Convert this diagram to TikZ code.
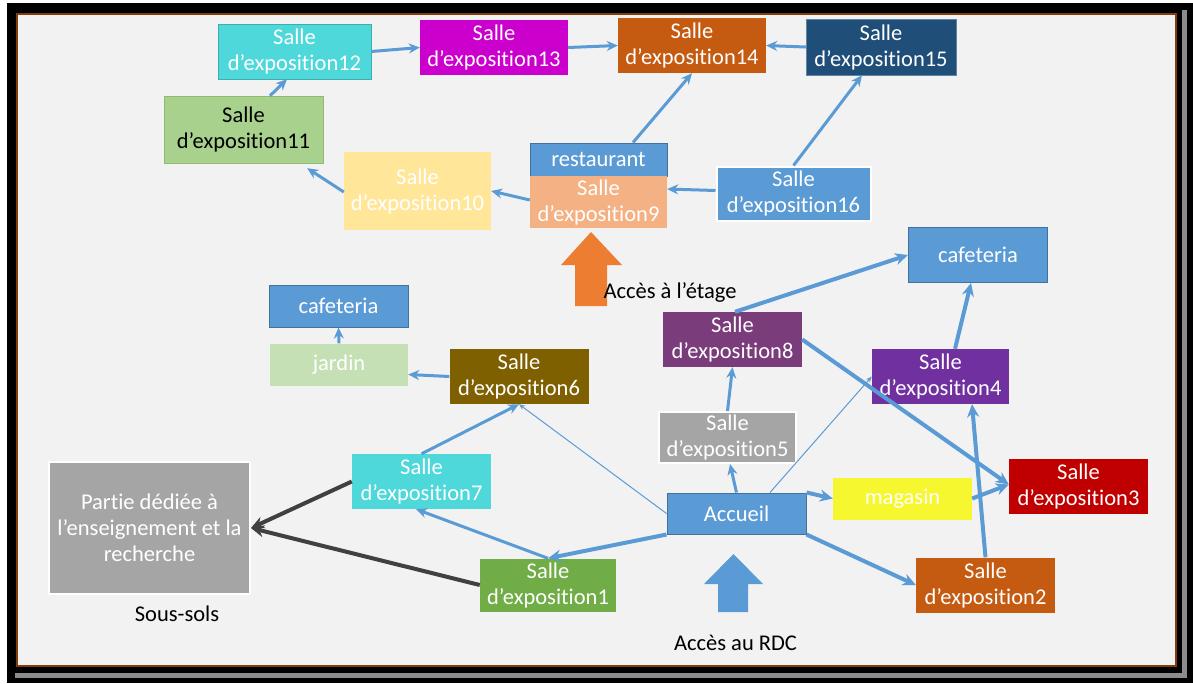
\documentclass[tikz,border=0pt]{standalone}
\usepackage{fontspec}
\setmainfont{Carlito}[Ligatures={NoCommon,NoContextual}]
\usepackage{tikz}
\usetikzlibrary{arrows.meta}
\definecolor{paper}{HTML}{F2F2F2}
\definecolor{framebrown}{HTML}{843C0C}
\definecolor{shadegray}{HTML}{8C8C8C}
\definecolor{officeblue}{HTML}{5B9BD5}
\definecolor{edgeblue}{HTML}{41719C}
\definecolor{roomaqua}{HTML}{4ED8DA}
\definecolor{roommagenta}{HTML}{CC00CC}
\definecolor{roomrust}{HTML}{C55A11}
\definecolor{roomnavy}{HTML}{1F4E79}
\definecolor{roomsage}{HTML}{A9D18E}
\definecolor{roomsand}{HTML}{FFE699}
\definecolor{roomsalmon}{HTML}{F4B183}
\definecolor{roomplum}{HTML}{7A3C7A}
\definecolor{roomviolet}{HTML}{7030A0}
\definecolor{roomstone}{HTML}{A5A5A5}
\definecolor{roomolive}{HTML}{7F6000}
\definecolor{roommint}{HTML}{C5E0B4}
\definecolor{roomlemon}{HTML}{F7F72F}
\definecolor{roomred}{HTML}{C00000}
\definecolor{roomgrass}{HTML}{70AD47}
\definecolor{pumpkin}{HTML}{ED7D31}
\definecolor{charcoal}{HTML}{404040}
\tikzset{
  room/.style      = {minimum width=139pt, minimum height=55pt, inner sep=0pt,
                      align=center, text=white, font=\fontsize{22.5}{26}\selectfont},
  boxsize/.style 2 args = {minimum width=#1pt, minimum height=#2pt},
  whiteedge/.style = {draw=white, line width=2pt},
  blueedge/.style  = {draw=edgeblue, line width=1pt},
  lbl/.style       = {inner sep=0pt, font=\fontsize{22.5}{26}\selectfont},
  link/.style      = {-{Stealth[length=11pt,width=10pt]}, officeblue, line width=3pt},
  boldlink/.style  = {-{Stealth[length=13pt,width=12pt]}, officeblue, line width=4pt},
  thinlink/.style  = {-{Stealth[length=6pt,width=5pt]}, officeblue, line width=1pt},
  darklink/.style  = {-{Stealth[length=13pt,width=12pt]}, charcoal, line width=4pt}
}
\begin{document}
\begin{tikzpicture}[x=1pt,y=-1pt]
  \useasboundingbox (0,0) rectangle (1193,683);
  % frame
  \fill[white] (0,0) rectangle (1193,683);
  \fill[black] (7,3) rectangle (1193,683);
  \draw[shadegray,line width=5pt] (1184.5,10) -- (1184.5,675.5) -- (15,675.5);
  \draw[framebrown,line width=2pt,fill=paper] (17,14) rectangle (1176,666);

  % etage
  \node[room, boxsize={153}{55}, fill=roomaqua, draw=roomaqua!80!black] (s12) at (294.5,51.5) {Salle\\d’exposition12};
  \node[room, boxsize={148}{55}, fill=roommagenta] (s13) at (494,47.5) {Salle\\d’exposition13};
  \node[room, boxsize={148}{55}, fill=roomrust] (s14) at (692,45.5) {Salle\\d’exposition14};
  \node[room, boxsize={150}{56}, fill=roomnavy, draw=roomnavy!70!white] (s15) at (881,47) {Salle\\d’exposition15};
  \node[room, boxsize={159}{67}, fill=roomsage, draw=roomgrass!80!white, text=black] (s11) at (243.5,129.5) {Salle\\d’exposition11};
  \node[room, boxsize={147}{78}, fill=roomsand] (s10) at (417.5,191) {Salle\\d’exposition10};
  \node[room, boxsize={137}{33}, fill=officeblue, blueedge] (resto) at (598.5,159.5) {restaurant};
  \node[room, boxsize={137}{52}, fill=roomsalmon] (s9) at (598.5,202) {Salle\\d’exposition9};
  \node[room, boxsize={154}{54}, fill=officeblue, whiteedge] (s16) at (793.5,193.5) {Salle\\d’exposition16};
  \fill[pumpkin] (591,232) -- (622,265) -- (607,265) -- (607,306) -- (575,306) -- (575,265) -- (561,265) -- cycle;
  \node[lbl] (etage) at (670,292) {Accès à l’étage};

  % rez-de-chaussee
  \node[room, boxsize={139}{55}, fill=officeblue, blueedge] (cafR) at (978,255) {cafeteria};
  \node[room, boxsize={139}{42}, fill=officeblue, blueedge] (cafL) at (338.5,306) {cafeteria};
  \node[room, boxsize={138}{42}, fill=roommint] (jardin) at (339,364.5) {jardin};
  \node[room, fill=roomolive] (s6) at (519,376.5) {Salle\\d’exposition6};
  \node[room, fill=roomplum] (s8) at (732.5,339.5) {Salle\\d’exposition8};
  \node[room, boxsize={137}{55}, fill=roomviolet] (s4) at (940.5,376.5) {Salle\\d’exposition4};
  \node[room, boxsize={137}{51}, fill=roomstone, whiteedge] (s5) at (727.5,437.5) {Salle\\d’exposition5};
  \node[room, fill=roomaqua] (s7) at (421.5,481.5) {Salle\\d’exposition7};
  \node[room, boxsize={139}{41}, fill=officeblue, blueedge] (accueil) at (736.5,513.5) {Accueil};
  \node[room, boxsize={139}{42}, fill=roomlemon] (magasin) at (902.5,498.5) {magasin};
  \node[room, fill=roomred] (s3) at (1078.5,486.5) {Salle\\d’exposition3};
  \node[room, fill=roomrust] (s2) at (985.5,585) {Salle\\d’exposition2};
  \node[room, boxsize={136}{53}, fill=roomgrass] (s1) at (548,585) {Salle\\d’exposition1};
  \fill[officeblue] (733.5,554) -- (763,584) -- (748,584) -- (748,612) -- (718,612) -- (718,584) -- (704,584) -- cycle;
  \node[lbl] (rdc) at (735.5,643) {Accès au RDC};

  % sous-sols
  \node[room, boxsize={201}{132}, fill=roomstone, whiteedge] (partie) at (149.5,528) {Partie dédiée à\\l’enseignement et la\\recherche};
  \node[lbl] (soussols) at (177,614) {Sous-sols};

  % liaisons
  \draw[link] ([xshift=26.5pt]s11.north) -- ([xshift=-7.5pt]s12.south);
  \draw[link] (s12.east) -- (s13.west);
  \draw[link] (s13.east) -- (s14.west);
  \draw[link] (s15.west) -- (s14.east);
  \draw[link] ([xshift=34.5pt]resto.north) -- (s14.south);
  \draw[link] (s16.north) -- ([xshift=-19pt]s15.south);
  \draw[link] ([yshift=3pt]s16.west) -- ([yshift=13pt]s9.east);
  \draw[link] ([yshift=2pt]s9.west) -- (s10.east);
  \draw[link] ([yshift=-1pt]s10.west) -- ([xshift=-16pt,yshift=-5pt]s11.south east);
  \draw[boldlink] ([xshift=2.5pt]s8.north) -- (cafR.west);
  \draw[boldlink] ([xshift=14.5pt]s4.north) -- ([xshift=-7pt]cafR.south);
  \draw[boldlink] (s8.east) -- ([yshift=2pt]s3.west);
  \draw[thinlink] ([xshift=33.5pt]accueil.north) -- (s4.west);
  \draw[link] (accueil.north) -- ([xshift=2.5pt]s5.south);
  \draw[link] (s5.north) -- (s8.south);
  \draw[boldlink] (accueil.north east) -- (magasin.west);
  \draw[boldlink] (magasin.east) -- ([yshift=2pt]s3.west);
  \draw[boldlink] (s2.north) -- ([xshift=31.5pt]s4.south);
  \draw[boldlink] (accueil.south east) -- (s2.west);
  \draw[boldlink] (accueil.south west) -- (s1.north);
  \draw[link] (s1.north) -- ([xshift=-5.5pt]s7.south);
  \draw[thinlink] (accueil.west) -- (s6.south);
  \draw[link] (s7.north) -- (s6.south);
  \draw[link] (s6.west) -- ([yshift=-10pt]jardin.east);
  \draw[link] (jardin.north) -- (cafL.south);
  \draw[darklink] (s7.west) -- (partie.east);
  \draw[darklink] (s1.west) -- (partie.east);
\end{tikzpicture}
\end{document}
